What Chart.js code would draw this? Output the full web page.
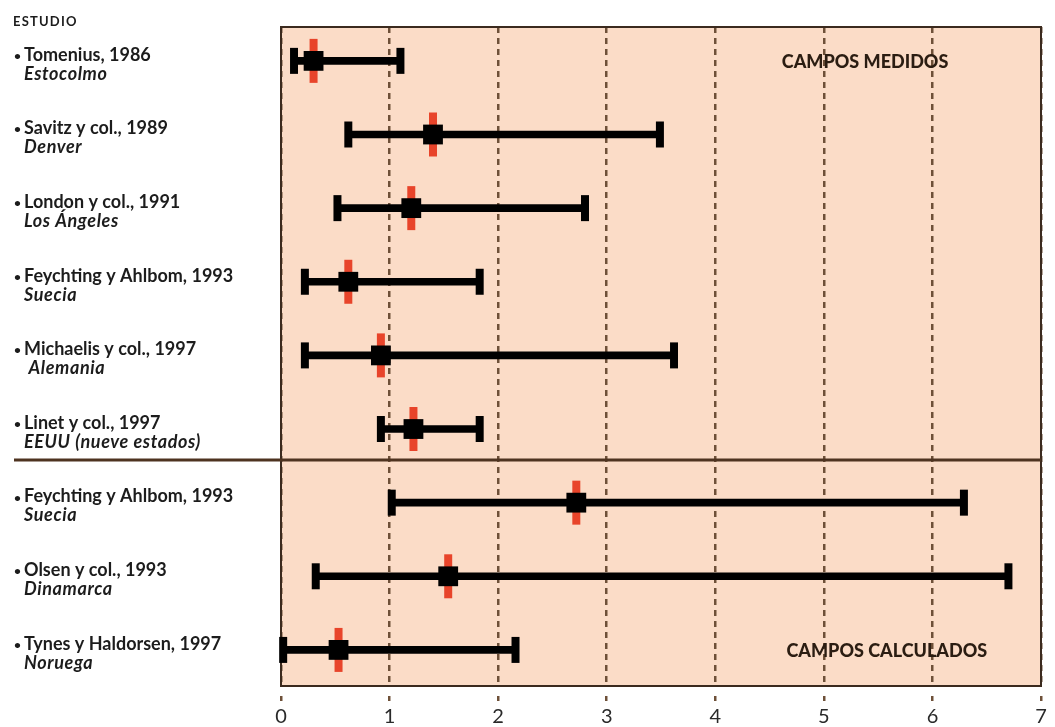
<!DOCTYPE html>
<html>
<head>
<meta charset="utf-8">
<style>
  html, body { margin: 0; padding: 0; background: #fff; }
  #wrap { width: 1055px; height: 727px; }
</style>
<script src="https://cdn.jsdelivr.net/npm/chart.js@4/dist/chart.umd.min.js"></script>
</head>
<body>
<div id="wrap"><canvas id="chart" width="1055" height="727"></canvas></div>
<script>
// studies, top to bottom
const studies = [
  'Tomenius, 1986', 'Savitz y col., 1989', 'London y col., 1991',
  'Feychting y Ahlbom, 1993', 'Michaelis y col., 1997', 'Linet y col., 1997',
  'Feychting y Ahlbom, 1993', 'Olsen y col., 1993', 'Tynes y Haldorsen, 1997'
];
const places = [
  'Estocolmo', 'Denver', 'Los Ángeles', 'Suecia', ' Alemania',
  'EEUU (nueve estados)', 'Suecia', 'Dinamarca', 'Noruega'
];
// relative risk and confidence interval
const estimate = [0.30, 1.40, 1.20, 0.62, 0.92, 1.22, 2.72, 1.54, 0.53];
const lower    = [0.12, 0.62, 0.52, 0.22, 0.22, 0.92, 1.02, 0.32, 0.02];
const upper    = [1.10, 3.49, 2.80, 1.83, 3.62, 1.83, 6.29, 6.70, 2.16];
const xTicks = [0, 1, 2, 3, 4, 5, 6, 7];
const groupLabels = [
  { text: 'CAMPOS MEDIDOS', x: 5.38, row: 0 },
  { text: 'CAMPOS CALCULADOS', x: 5.58, row: 8 }
];
const dividerAt = 5.42; // between measured and calculated groups

const rows = studies.map((s, i) => i);
const FONT = 'Lato, "Open Sans", sans-serif';

const framePlugin = {
  id: 'frame',
  beforeDraw(chart) {
    const { ctx, chartArea: a } = chart;
    ctx.save();
    ctx.fillStyle = '#fbdcc7';
    ctx.fillRect(a.left, a.top, a.right - a.left, a.bottom - a.top);
    ctx.restore();
  },
  beforeDatasetsDraw(chart) {
    const { ctx, chartArea: a, scales } = chart;
    ctx.save();
    ctx.strokeStyle = '#3b2a1e';
    ctx.lineWidth = 2;
    ctx.strokeRect(a.left, a.top, a.right - a.left, a.bottom - a.top);
    // divider line across labels and plot
    const yd = scales.y.getPixelForValue(dividerAt);
    ctx.strokeStyle = '#4e3320';
    ctx.lineWidth = 3;
    ctx.beginPath();
    ctx.moveTo(14, yd);
    ctx.lineTo(a.right, yd);
    ctx.stroke();
    ctx.restore();
  },
  afterDraw(chart) {
    const { ctx, scales } = chart;
    ctx.save();
    ctx.fillStyle = '#1c1c1c';
    ctx.textBaseline = 'middle';
    ctx.textAlign = 'left';
    ctx.font = 'bold 13px ' + FONT;
    ctx.letterSpacing = '1.2px';
    ctx.fillText('ESTUDIO', 13, 22);
    rows.forEach(i => {
      const y = scales.y.getPixelForValue(i);
      ctx.letterSpacing = '0px';
      ctx.font = 'bold 12px ' + FONT;
      ctx.fillText('•', 14, y - 5);
      ctx.font = 'bold 18px ' + FONT;
      ctx.fillText(studies[i], 24, y - 6);
      ctx.letterSpacing = '0.6px';
      ctx.font = 'italic bold 18px ' + FONT;
      ctx.fillText(places[i], 24, y + 13);
    });
    ctx.letterSpacing = '0px';
    ctx.fillStyle = '#2b1d12';
    ctx.textAlign = 'center';
    ctx.font = '900 18px ' + FONT;
    groupLabels.forEach(g => {
      ctx.fillText(g.text, scales.x.getPixelForValue(g.x), scales.y.getPixelForValue(g.row) + 1);
    });
    ctx.restore();
  }
};

new Chart(document.getElementById('chart'), {
  type: 'scatter',
  data: {
    datasets: [
      {
        type: 'bar',
        indexAxis: 'y',
        data: rows.map(i => ({ x: [lower[i], upper[i]], y: i })),
        backgroundColor: '#000',
        barThickness: 7,
        order: 4
      },
      {
        data: rows.flatMap(i => [{ x: lower[i], y: i }, { x: upper[i], y: i }]),
        pointStyle: 'line',
        rotation: 90,
        radius: 13,
        borderWidth: 8,
        borderColor: '#000',
        backgroundColor: '#000',
        clip: false,
        order: 3
      },
      {
        data: rows.map(i => ({ x: estimate[i], y: i })),
        pointStyle: 'line',
        rotation: 90,
        radius: 22,
        borderWidth: 8,
        borderColor: '#e8442a',
        backgroundColor: '#e8442a',
        clip: false,
        order: 2
      },
      {
        data: rows.map(i => ({ x: estimate[i], y: i })),
        pointStyle: 'rect',
        radius: 14,
        borderWidth: 0,
        backgroundColor: '#000',
        clip: false,
        order: 1
      }
    ]
  },
  options: {
    responsive: false,
    devicePixelRatio: 1,
    animation: false,
    layout: { autoPadding: false, padding: { left: 281, top: 27, right: 14, bottom: 0 } },
    plugins: { legend: { display: false }, tooltip: { enabled: false } },
    scales: {
      x: {
        type: 'linear',
        min: 0,
        max: 7,
        afterBuildTicks: s => { s.ticks = xTicks.map(v => ({ value: v })); },
        afterFit: s => { s.height = 41; },
        ticks: {
          padding: 6,
          color: '#2a2a2a',
          font: { family: FONT, size: 20, lineHeight: 1 }
        },
        grid: {
          color: '#6e5038',
          lineWidth: 2.5,
          tickLength: 15,
          tickColor: '#6e5038',
          tickWidth: 2.5,
          tickBorderDash: [5, 10],
          tickBorderDashOffset: 5
        },
        border: { display: false, dash: [6, 5] }
      },
      y: {
        type: 'linear',
        display: false,
        reverse: true,
        offset: false,
        grid: { offset: false },
        min: -0.46,
        max: 8.49
      }
    }
  },
  plugins: [framePlugin]
});
</script>
</body>
</html>
